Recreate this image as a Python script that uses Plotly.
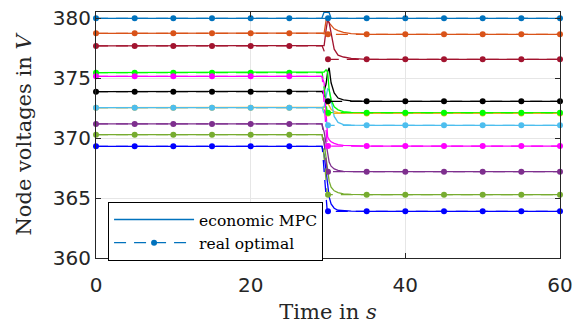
import plotly.graph_objects as go

# ---------------- data ----------------
colors = ["#0072BD", "#D95319", "#A2142F", "#EDB120", "#7E2F8E", "#77AC30",
          "#4DBEEE", "#000000", "#00FF00", "#FF00FF", "#0000FF"]
v_before = [379.97, 378.72, 377.67, 372.53, 371.17, 370.28,
            372.53, 373.86, 375.44, 375.14, 369.31]
v_after = [379.97, 378.64, 376.56, 372.05, 367.19, 365.28,
           371.06, 373.06, 372.11, 369.33, 363.89]

# transient of the economic MPC after the set-point change
t_trans = [29.2, 29.5, 29.75, 29.95, 30.15, 30.4, 30.8, 31.3, 32.0, 33.0, 35.0]
mpc_trans = [
    [379.97, 380.50, 380.50, 380.50, 380.45, 379.98, 379.97, 379.97, 379.97, 379.97, 379.97],
    [378.72, 378.75, 379.80, 379.80, 379.60, 379.40, 379.10, 378.95, 378.80, 378.70, 378.64],
    [377.67, 377.70, 379.00, 379.85, 379.60, 378.70, 377.40, 376.90, 376.75, 376.63, 376.56],
    [372.53, 372.55, 372.80, 372.90, 372.70, 372.40, 372.20, 372.12, 372.08, 372.06, 372.05],
    [371.17, 370.50, 369.40, 368.60, 368.00, 367.65, 367.42, 367.30, 367.22, 367.20, 367.19],
    [370.28, 369.60, 368.30, 367.20, 366.40, 365.90, 365.60, 365.45, 365.35, 365.30, 365.28],
    [372.53, 372.60, 373.50, 374.10, 374.00, 373.20, 371.80, 371.30, 371.12, 371.08, 371.06],
    [373.86, 373.90, 374.50, 375.50, 375.85, 374.60, 373.75, 373.33, 373.17, 373.09, 373.06],
    [375.44, 375.50, 375.68, 375.50, 374.00, 373.20, 372.60, 372.35, 372.20, 372.13, 372.11],
    [375.14, 374.60, 372.20, 370.10, 369.85, 369.68, 369.55, 369.45, 369.38, 369.35, 369.33],
    [369.31, 368.60, 367.30, 366.10, 365.10, 364.50, 364.15, 363.98, 363.93, 363.90, 363.89],
]
t_start, t_end = 0, 60
t_step = [29.25, 29.9]            # real optimal switches between these times
t_markers = [0, 5, 10, 15, 20, 25, 30, 35, 40, 45, 50, 55, 60]

x_ticks = [0, 20, 40, 60]
y_ticks = [360, 365, 370, 375, 380]

# ---------------- figure ----------------
fig = go.Figure()
LW = 1.3
for c, vb, va, tr in zip(colors, v_before, v_after, mpc_trans):
    fig.add_trace(go.Scatter(x=[t_start] + t_trans + [t_end], y=[vb] + tr + [va],
                             mode="lines", line=dict(color=c, width=LW),
                             showlegend=False, hoverinfo="skip"))
for c, vb, va in zip(colors, v_before, v_after):
    fig.add_trace(go.Scatter(x=[t_start, t_step[0], t_step[1], t_end], y=[vb, vb, va, va],
                             mode="lines", line=dict(color=c, width=LW, dash="12px,8px"),
                             showlegend=False, hoverinfo="skip"))
    fig.add_trace(go.Scatter(x=t_markers, y=[vb if t < 30 else va for t in t_markers],
                             mode="markers", marker=dict(color=c, size=6),
                             showlegend=False, hoverinfo="skip", cliponaxis=False))

# legend entries
fig.add_trace(go.Scatter(x=[None], y=[None], mode="lines", name="economic MPC",
                         line=dict(color="#0072BD", width=LW)))
fig.add_trace(go.Scatter(x=[None], y=[None], mode="lines+markers", name="real optimal",
                         line=dict(color="#0072BD", width=LW, dash="12px,8px"),
                         marker=dict(color="#0072BD", size=6)))

axis_common = dict(showline=True, linecolor="#262626", linewidth=1, mirror="ticks",
                   ticks="inside", ticklen=5, tickcolor="#262626", automargin=False,
                   showgrid=True, gridcolor="#E6E6E6", gridwidth=1, zeroline=False,
                   tickfont=dict(family="DejaVu Sans", size=20, color="#262626"))

fig.update_xaxes(range=[0, 60], tickvals=x_ticks, **axis_common, ticklabelstandoff=9,
                 title=dict(text="Time in <i>s</i>", standoff=10,
                            font=dict(family="DejaVu Serif", size=21, color="#262626")))
fig.update_yaxes(range=[360, 380.5], tickvals=y_ticks, **axis_common,
                 title=dict(text="Node voltages in <i>V</i>", standoff=15,
                            font=dict(family="DejaVu Serif", size=21, color="#262626")))

fig.update_layout(
    width=584, height=324,
    margin=dict(l=96, r=24, t=12, b=66),
    paper_bgcolor="white", plot_bgcolor="white",
    legend=dict(x=0.026, y=0.228, xanchor="left", yanchor="top",
                bgcolor="white", bordercolor="#000000", borderwidth=1,
                font=dict(family="DejaVu Serif, serif", size=15.5, color="#000000"),
                itemwidth=80, tracegroupgap=0),
)

fig.write_html("out.html")
